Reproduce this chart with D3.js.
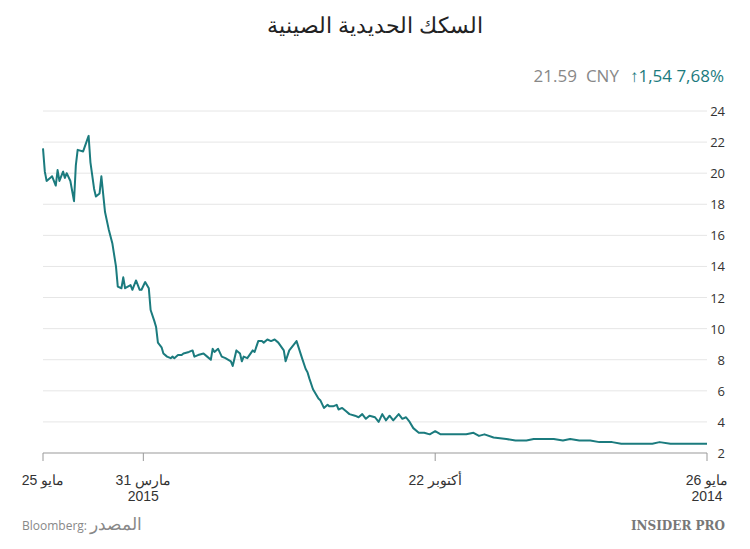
<!DOCTYPE html>
<html>
<head>
<meta charset="utf-8">
<script src="https://cdn.jsdelivr.net/npm/d3@7"></script>
<style>
  body { margin: 0; background: #fff; font-family: "Open Sans", "Noto Sans", sans-serif; }
</style>
</head>
<body>
<svg id="chart" width="750" height="549"></svg>
<script>
// days since 26 May 2014, and closing price (CNY)
var days = [364,363,362,359,357,356,355,353,352,351,349,347,346,345,342,339,338,336,335,333,332,330,328,326,324,323,321,320,319,316,315,313,311,310,308,306,305,303,302,301,299,298,296,294,293,292,290,288,287,284,282,281,279,276,274,272,271,270,268,266,264,261,260,258,256,255,254,252,249,248,246,244,243,241,239,237,235,232,231,229,225,222,220,219,218,216,213,212,210,208,207,205,203,202,200,198,196,193,191,189,187,185,182,180,178,176,174,172,169,167,165,163,161,158,155,152,149,146,143,138,132,128,125,122,117,110,105,99,95,88,84,79,75,70,64,59,52,47,41,36,30,26,20,15,9,4,0];
var prices = [21.6,20.1,19.5,19.8,19.2,20.2,19.5,20.1,19.7,20.0,19.5,18.2,20.5,21.5,21.4,22.4,20.7,19.0,18.5,18.7,19.8,17.5,16.4,15.5,14.0,12.7,12.6,13.3,12.6,12.8,12.5,13.1,12.5,12.5,13.0,12.6,11.2,10.5,10.1,9.1,8.8,8.4,8.2,8.1,8.2,8.1,8.3,8.3,8.4,8.5,8.6,8.2,8.3,8.4,8.2,8.0,8.7,8.5,8.7,8.2,8.1,7.9,7.6,8.6,8.4,7.9,8.2,8.1,8.6,8.5,9.2,9.2,9.1,9.3,9.2,9.3,9.1,8.6,7.9,8.6,9.2,8.1,7.4,7.2,6.8,6.1,5.5,5.4,4.9,5.1,5.0,5.0,5.1,4.8,4.9,4.7,4.5,4.4,4.3,4.5,4.2,4.4,4.3,4.0,4.5,4.1,4.4,4.1,4.5,4.2,4.3,4.0,3.6,3.3,3.3,3.2,3.4,3.2,3.2,3.2,3.2,3.3,3.1,3.2,3.0,2.9,2.8,2.8,2.9,2.9,2.9,2.8,2.9,2.8,2.8,2.7,2.7,2.6,2.6,2.6,2.6,2.7,2.6,2.6,2.6,2.6,2.6];
var yTicks = [2,4,6,8,10,12,14,16,18,20,22,24];
var xTickDates = ["2014-05-26","2014-10-22","2015-03-31","2015-05-25"];
var xTickLines = [["26 مايو","2014"],["22 أكتوبر",""],["31 مارس","2015"],["25 مايو",""]];

var teal = "#1b7b7e";
var start = new Date(2014, 4, 26);
var parse = d3.timeParse("%Y-%m-%d");
var data = days.map(function(d, i) {
  return { date: d3.timeDay.offset(start, d), value: prices[i] };
}).sort(function(a, b) { return a.date - b.date; });

var svg = d3.select("#chart");
var m = { left: 43, right: 707, top: 111, bottom: 453 };

// right-to-left time axis
var x = d3.scaleTime().domain([start, parse("2015-05-25")]).range([m.right, m.left]);
var y = d3.scaleLinear().domain([2, 24]).range([m.bottom, m.top]);

svg.append("text").attr("x", 375).attr("y", 33).attr("text-anchor", "middle")
  .attr("font-size", 22).attr("fill", "#222")
  .text("السكك الحديدية الصينية");

var head = svg.append("text").attr("x", 724).attr("y", 82).attr("text-anchor", "end")
  .attr("font-size", 17).attr("xml:space", "preserve");
head.append("tspan").attr("fill", "#888").text("21.59");
head.append("tspan").attr("fill", "#888").attr("dx", 9).text("CNY");
head.append("tspan").attr("fill", teal).attr("dx", 11).text("↑1,54 7,68%");

svg.append("g").selectAll("line").data(yTicks.slice(1)).join("line")
  .attr("x1", m.left).attr("x2", m.right)
  .attr("y1", function(d) { return y(d); }).attr("y2", function(d) { return y(d); })
  .attr("stroke", "#e6e6e6");

svg.append("g").selectAll("text").data(yTicks).join("text")
  .attr("x", 725).attr("y", function(d) { return y(d) + 5; })
  .attr("text-anchor", "end").attr("font-size", 13).attr("fill", "#333")
  .text(function(d) { return d; });

svg.append("line").attr("x1", m.left).attr("x2", m.right).attr("y1", m.bottom).attr("y2", m.bottom)
  .attr("stroke", "#999");

var ticks = svg.append("g").selectAll("g").data(xTickDates).join("g")
  .attr("transform", function(d) { return "translate(" + x(parse(d)) + ",0)"; });
ticks.append("line").attr("y1", m.bottom).attr("y2", m.bottom + 8).attr("stroke", "#999");
ticks.append("text").attr("y", 485).attr("text-anchor", "middle").attr("font-size", 14)
  .attr("fill", "#333").attr("font-family", "Liberation Sans Narrow, Liberation Sans, sans-serif")
  .text(function(d, i) { return xTickLines[i][0]; });
ticks.append("text").attr("y", 501).attr("text-anchor", "middle").attr("font-size", 14)
  .attr("fill", "#333").attr("font-family", "Liberation Sans Narrow, Liberation Sans, sans-serif")
  .text(function(d, i) { return xTickLines[i][1]; });

svg.append("path").datum(data)
  .attr("fill", "none").attr("stroke", teal).attr("stroke-width", 2).attr("stroke-linejoin", "round")
  .attr("d", d3.line().x(function(d) { return x(d.date); }).y(function(d) { return y(d.value); }));

var src = svg.append("text").attr("x", 22).attr("y", 530).attr("font-size", 12).attr("fill", "#888");
src.append("tspan").text("Bloomberg: ");
src.append("tspan").attr("font-size", 17).text("المصدر");

svg.append("text").attr("x", 725).attr("y", 530).attr("text-anchor", "end")
  .attr("font-size", 12).attr("font-weight", "bold").attr("fill", "#777")
  .attr("font-family", "DejaVu Serif, serif").text("INSIDER PRO");
</script>
</body>
</html>
